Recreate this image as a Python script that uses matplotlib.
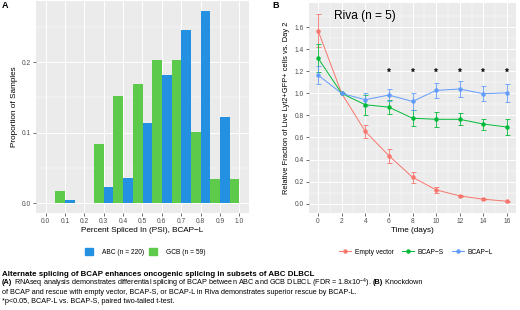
import matplotlib
matplotlib.use("Agg")
import matplotlib.pyplot as plt
from matplotlib.patches import Patch
from matplotlib.lines import Line2D
import numpy as np

plt.rcParams['font.family'] = ['Liberation Sans', 'DejaVu Sans']
plt.rcParams['mathtext.fontset'] = 'custom'
plt.rcParams['mathtext.rm'] = 'Liberation Sans'

# ---- panel A data: PSI histogram (bins of 0.1), proportion of samples
bin_left = [0.0, 0.1, 0.2, 0.3, 0.4, 0.5, 0.6, 0.7, 0.8, 0.9]
abc_counts = [0, 1, 0, 5, 8, 25, 40, 54, 60, 27]
gcb_counts = [1, 0, 5, 9, 10, 12, 12, 6, 2, 2]
abc_n = 220
gcb_n = 59
psi_ticks = [0.0, 0.1, 0.2, 0.3, 0.4, 0.5, 0.6, 0.7, 0.8, 0.9, 1.0]

# ---- panel B data: relative fraction vs day 2
days = [0, 2, 4, 6, 8, 10, 12, 14, 16]
empty_mean = [1.57, 1.0, 0.655, 0.435, 0.24, 0.125, 0.07, 0.04, 0.022]
empty_err = [0.15, 0.0, 0.06, 0.065, 0.05, 0.03, 0.012, 0.008, 0.006]
bcaps_mean = [1.32, 1.0, 0.897, 0.875, 0.775, 0.765, 0.765, 0.722, 0.695]
bcaps_err = [0.13, 0.0, 0.09, 0.065, 0.07, 0.07, 0.055, 0.05, 0.07]
bcapl_mean = [1.166, 1.0, 0.943, 0.985, 0.927, 1.027, 1.04, 0.997, 1.005]
bcapl_err = [0.08, 0.0, 0.06, 0.055, 0.08, 0.065, 0.075, 0.07, 0.08]
star_days = [6, 8, 10, 12, 14, 16]
star_y = 1.2

blue_a = '#2490E2'
green_a = '#5DCA4C'
red_b = '#F8766D'
green_b = '#00BA38'
blue_b = '#619CFF'
panel_bg = '#EBEBEB'
tick_col = '#4D4D4D'

fig = plt.figure(figsize=(5.2, 3.1), dpi=100)
W, H = 520, 310


def px_axes(l, t, r, b):
    return fig.add_axes([l / W, 1 - b / H, (r - l) / W, (b - t) / H])


def gg_style(ax):
    ax.set_facecolor(panel_bg)
    for s in ax.spines.values():
        s.set_visible(False)
    ax.grid(True, which='major', color='white', linewidth=0.7)
    ax.grid(True, which='minor', color='white', linewidth=0.35)
    ax.set_axisbelow(True)
    ax.tick_params(which='major', length=2, width=0.5, color='#333333',
                   labelsize=4.8, labelcolor=tick_col, pad=1.5)
    ax.tick_params(which='minor', length=0)


# ---------------- Panel A
axA = px_axes(36, 1, 249, 213)
gg_style(axA)
abc_prop = np.array(abc_counts) / abc_n
gcb_prop = np.array(gcb_counts) / gcb_n
left = np.array(bin_left)
axA.bar(left, abc_prop, width=0.05, align='edge', color=blue_a, linewidth=0)
axA.bar(left + 0.05, gcb_prop, width=0.05, align='edge', color=green_a, linewidth=0)
axA.set_xlim(-0.05, 1.05)
axA.set_ylim(-0.0137, 0.2866)
axA.set_xticks(psi_ticks)
axA.set_xticklabels(['%.1f' % t for t in psi_ticks])
axA.set_yticks([0.0, 0.1, 0.2])
axA.set_yticks([0.05, 0.15, 0.25], minor=True)
axA.set_xlabel('Percent Spliced In (PSI), BCAP\u2212L', fontsize=5.9, labelpad=1.5)
axA.set_ylabel('Proportion of Samples', fontsize=5.9, labelpad=3)
fig.legend(handles=[Patch(color=blue_a, label='ABC (n = 220)'),
                    Patch(color=green_a, label='GCB (n = 59)')],
           loc='center', bbox_to_anchor=(145 / W, 1 - 252 / H), ncol=2,
           frameon=False, fontsize=4.8, handlelength=1.2, handleheight=1.2,
           handletextpad=1.3, columnspacing=0.8)
fig.text(2 / W, 1 - 6 / H, 'A', fontsize=6.5, fontweight='bold', va='center')

# ---------------- Panel B
axB = px_axes(308.6, 3, 516.4, 213)
gg_style(axB)
for mean, err, col in [(empty_mean, empty_err, red_b),
                       (bcaps_mean, bcaps_err, green_b),
                       (bcapl_mean, bcapl_err, blue_b)]:
    axB.errorbar(days, mean, yerr=err, color=col, linewidth=0.7, marker='o',
                 markersize=2.2, elinewidth=0.6, capsize=1.8, capthick=0.6)
for d in star_days:
    axB.text(d, star_y, '*', fontsize=7, fontweight='bold', ha='center',
             va='center_baseline')
axB.text(4, 1.70, 'Riva (n = 5)', fontsize=8.6, ha='center', va='center')
axB.set_xlim(-0.8, 16.8)
axB.set_ylim(-0.085, 1.82)
axB.set_xticks(days)
axB.set_xticks([1, 3, 5, 7, 9, 11, 13, 15], minor=True)
axB.set_yticks([0.0, 0.2, 0.4, 0.6, 0.8, 1.0, 1.2, 1.4, 1.6])
axB.set_yticks([0.1, 0.3, 0.5, 0.7, 0.9, 1.1, 1.3, 1.5, 1.7], minor=True)
axB.set_yticklabels(['%.1f' % t for t in axB.get_yticks()])
axB.set_xlabel('Time (days)', fontsize=5.9, labelpad=1.5)
axB.set_ylabel('Relative Fraction of Live Lyt2+GFP+ cells vs. Day 2',
               fontsize=5.4, labelpad=3)
handles = [Line2D([], [], color=c, marker='o', markersize=2.2, linewidth=0.7, label=l)
           for c, l in [(red_b, 'Empty vector'), (green_b, 'BCAP\u2212S'),
                        (blue_b, 'BCAP\u2212L')]]
fig.legend(handles=handles, loc='center', bbox_to_anchor=(416 / W, 1 - 252 / H),
           ncol=3, frameon=False, fontsize=4.8, handlelength=1.8,
           handletextpad=0.6, columnspacing=1.2)
fig.text(272 / W, 1 - 6 / H, 'B', fontsize=6.5, fontweight='bold', va='center')

# ---------------- caption
renderer = fig.canvas.get_renderer()


def rich_line(x, y, parts, size):
    # draw (text, weight) pieces one after another on one line
    for txt, weight in parts:
        t = fig.text(x / W, 1 - y / H, txt, fontsize=size, fontweight=weight,
                     va='center')
        x += t.get_window_extent(renderer).width


rich_line(2, 274, [('Alternate splicing of BCAP enhances oncogenic splicing '
                    'in subsets of ABC DLBCL', 'bold')], 5.7)
rich_line(2, 283, [('(A)', 'bold'),
                   (' RNAseq analysis demonstrates differential splicing of BCAP '
                    'between ABC and GCB DLBCL (FDR = 1.8x10$^{-4}$). ', 'normal'),
                   ('(B)', 'bold'), (' Knockdown', 'normal')], 5.2)
rich_line(2, 292, [('of BCAP and rescue with empty vector, BCAP-S, or BCAP-L in Riva '
                    'demonstrates superior rescue by BCAP-L.', 'normal')], 5.2)
rich_line(2, 301.5, [('*p<0.05, BCAP-L vs. BCAP-S, paired two-tailed t-test.',
                      'normal')], 5.2)

fig.savefig('out.png', dpi=100)
